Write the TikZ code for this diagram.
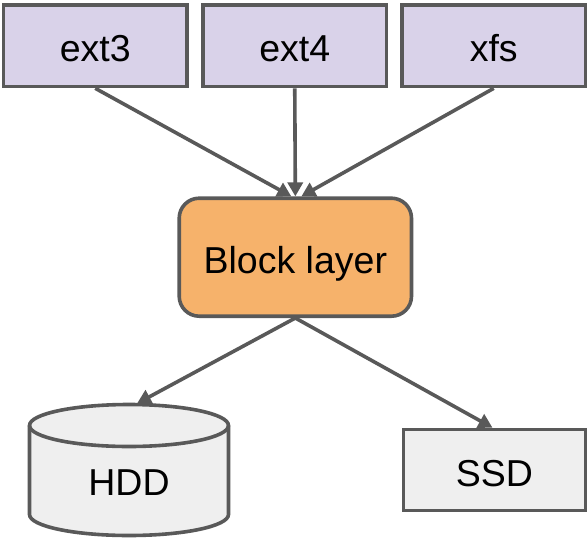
\documentclass[tikz,border=0pt]{standalone}
\usepackage{fontspec}
\setmainfont{Liberation Sans}
\usetikzlibrary{arrows.meta}
\definecolor{edge}{HTML}{595959}
\definecolor{fsfill}{HTML}{D9D2E9}
\definecolor{blkfill}{HTML}{F6B26B}
\definecolor{devfill}{HTML}{EFEFEF}
\tikzset{
  lbl/.style={font=\fontsize{37.5}{44}\selectfont, text height=32pt, text depth=0pt},
  box/.style={draw=edge, line width=3.6pt, inner sep=0pt, lbl},
  fsbox/.style={box, fill=fsfill, minimum width=183.5pt, minimum height=81.5pt},
  conn/.style={draw=edge, line width=3.6pt, -{Triangle[length=14pt,width=15pt]}}
}
\begin{document}
\begin{tikzpicture}[x=1pt,y=-1pt]
  \useasboundingbox (0,0) rectangle (588,538);
  % file systems
  \node[fsbox] (ext3) at (95.25,45.75) {ext3};
  \node[fsbox] (ext4) at (294.75,45.75) {ext4};
  \node[fsbox] (xfs) at (493.75,45.75) {xfs};
  % block layer
  \node[box, fill=blkfill, rounded corners=20pt, minimum width=232.3pt, minimum height=118pt] (block) at (295.35,257.2) {Block layer};
  % HDD cylinder (y axis points down, so angle 90 is the lowest point)
  \path[draw=edge, line width=3.6pt, fill=devfill]
    (29.5,425.5) -- (29.5,514.5) arc[start angle=180, end angle=0, x radius=99.5, y radius=21]
    -- (228.5,425.5) arc[start angle=0, end angle=-180, x radius=99.5, y radius=21] -- cycle;
  \draw[edge, line width=3.6pt] (29.5,425.5) arc[start angle=180, end angle=0, x radius=99.5, y radius=21];
  \node[lbl, inner sep=0pt] (hdd) at (129,479.5) {HDD};
  \coordinate (hddtop) at (137,403.5);
  % SSD
  \node[box, fill=devfill, minimum width=182pt, minimum height=81pt] (ssd) at (494.5,470) {SSD};
  % connectors
  \draw[conn] (ext3.south) -- ([xshift=-4pt]block.north);
  \draw[conn] (ext4.south) -- (block.north);
  \draw[conn] (xfs.south) -- ([xshift=6pt]block.north);
  \draw[conn] (block.south) -- (hddtop);
  \draw[conn] (block.south) -- ([xshift=-2pt]ssd.north);
\end{tikzpicture}
\end{document}
